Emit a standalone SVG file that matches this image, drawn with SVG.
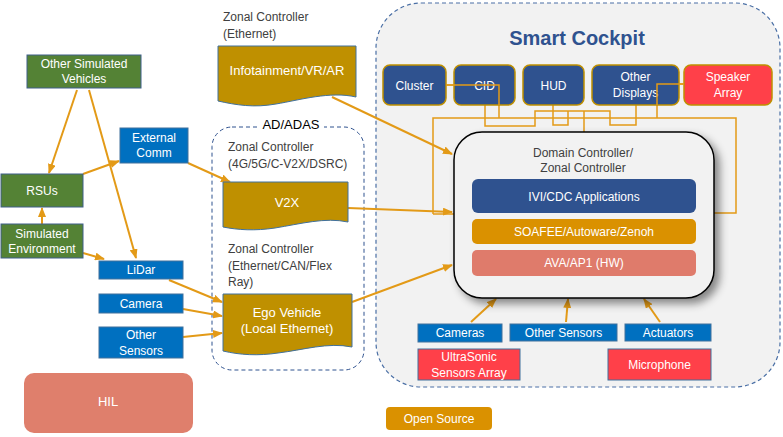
<svg xmlns="http://www.w3.org/2000/svg" width="783" height="437" viewBox="0 0 783 437">
<defs>
<marker id="ah" markerWidth="10" markerHeight="8" refX="9" refY="4" orient="auto" markerUnits="userSpaceOnUse">
<path d="M0,0 L10,4 L0,8 Z" fill="#E39A17"/>
</marker>
<filter id="sh" x="-10%" y="-10%" width="130%" height="130%">
<feDropShadow dx="5" dy="5" stdDeviation="4" flood-color="#000" flood-opacity="0.45"/>
</filter>
<style>
text{font-family:"Liberation Sans",Arial,sans-serif;font-size:12px}
.w{fill:#fff;text-anchor:middle}
.g{fill:#404040}
.c{text-anchor:middle}
.green{fill:#548235;stroke:#3E5F8A;stroke-width:1}
.blue{fill:#0070C0;stroke:#41719C;stroke-width:1}
.doc{fill:#BF9000;stroke:#41719C;stroke-width:1}
.dk{fill:#2F528F;stroke:#BF9000;stroke-width:1.5}
.red{fill:#FF4049;stroke:#41719C;stroke-width:1}
.arr{stroke:#E39A17;stroke-width:2;fill:none;marker-end:url(#ah)}
.wire{stroke:#E39A17;stroke-width:1.5;fill:none}
</style>
</defs>
<rect width="783" height="437" fill="#fff"/>

<g id="smart-cockpit">
<rect x="376" y="3" width="404" height="384" rx="45" fill="#F2F2F2" stroke="#4A6FA5" stroke-width="1.2" stroke-dasharray="4,3"/>
<text x="577" y="45" class="c" style="font-size:20px;font-weight:bold;fill:#2F528F">Smart Cockpit</text>
</g>

<g id="ad-adas">
<rect x="212" y="127" width="152" height="243" rx="20" fill="none" stroke="#2F528F" stroke-width="1" stroke-dasharray="4,3"/>
<rect x="258" y="118" width="66" height="16" fill="#fff"/>
<text x="291" y="129" class="c" style="font-size:13px;fill:#000">AD/ADAS</text>
</g>

<g id="connectors">
<path class="wire" d="M446,85 H499 V118"/>
<path class="wire" d="M433,214 V118 H736 V213 H714"/>
<path class="wire" d="M433,214 H454"/>
<path class="wire" d="M485,105 V126 H535 V111 H610 V125 H636 V105"/>
<path class="wire" d="M553,105 V125 H568 V111"/>
<path class="wire" d="M584,111 V132"/>
<path class="wire" d="M684,84 H657 V118"/>
<path class="arr" d="M77,90 L49,173"/>
<path class="arr" d="M89,90 L136,258"/>
<path class="arr" d="M83,174 L119,161"/>
<path class="arr" d="M42,224 L42,208"/>
<path class="arr" d="M83,253 L104,259"/>
<path class="arr" d="M169,280 L222,302"/>
<path class="arr" d="M183,309 L222,316"/>
<path class="arr" d="M183,337 L222,333"/>
<path class="arr" d="M188,163 L230,182"/>
<path class="arr" d="M332,97 L452,154"/>
<path class="arr" d="M348,208 L452,212"/>
<path class="arr" d="M352,302 L452,265"/>
<path class="arr" d="M471,322 L496,299"/>
<path class="arr" d="M566,322 L568,299"/>
<path class="arr" d="M660,322 L644,299"/>
</g>

<g id="other-simulated-vehicles">
<rect class="green" x="27" y="55" width="114" height="33"/>
<text class="w" x="84" y="68">Other Simulated</text>
<text class="w" x="84" y="83">Vehicles</text>
</g>
<g id="external-comm">
<rect class="blue" x="120" y="128" width="68" height="35"/>
<text class="w" x="154" y="142">External</text>
<text class="w" x="154" y="157">Comm</text>
</g>
<g id="rsus">
<rect class="green" x="1" y="174" width="82" height="33"/>
<text class="w" x="42" y="195">RSUs</text>
</g>
<g id="simulated-environment">
<rect class="green" x="1" y="224" width="82" height="34"/>
<text class="w" x="42" y="238">Simulated</text>
<text class="w" x="42" y="253">Environment</text>
</g>
<g id="lidar">
<rect class="blue" x="99" y="261" width="84" height="18"/>
<text class="w" x="141" y="274">LiDar</text>
</g>
<g id="camera">
<rect class="blue" x="99" y="294" width="84" height="19"/>
<text class="w" x="141" y="308">Camera</text>
</g>
<g id="other-sensors-left">
<rect class="blue" x="99" y="327" width="84" height="31"/>
<text class="w" x="141" y="339">Other</text>
<text class="w" x="141" y="355">Sensors</text>
</g>
<g id="hil">
<rect x="24" y="373" width="169" height="60" rx="10" fill="#DF7F6C"/>
<text class="w" x="108" y="406" style="font-size:13px">HIL</text>
</g>

<g id="infotainment">
<text class="g" x="223" y="21">Zonal Controller</text>
<text class="g" x="223" y="38">(Ethernet)</text>
<path class="doc" d="M218,46 H356 V97 C330,91 300,100 276,104 C254,108 236,105 218,101 Z"/>
<text class="w" x="287" y="75" style="font-size:13px">Infotainment/VR/AR</text>
</g>
<g id="v2x">
<text class="g" x="228" y="151">Zonal Controller</text>
<text class="g" x="228" y="168">(4G/5G/C-V2X/DSRC)</text>
<path class="doc" d="M223,182 H348 V222 C325,217 300,224 275,228 C255,231 238,230 223,227 Z"/>
<text class="w" x="287" y="207" style="font-size:13px">V2X</text>
</g>
<g id="ego-vehicle">
<text class="g" x="228" y="253">Zonal Controller</text>
<text class="g" x="228" y="270">(Ethernet/CAN/Flex</text>
<text class="g" x="228" y="286">Ray)</text>
<path class="doc" d="M223,294 H352 V347 C328,342 303,350 278,353 C258,356 240,355 223,351 Z"/>
<text class="w" x="287" y="317" style="font-size:13px">Ego Vehicle</text>
<text class="w" x="287" y="333" style="font-size:13px">(Local Ethernet)</text>
</g>

<g id="cluster">
<rect class="dk" x="383" y="65" width="63" height="40" rx="7"/>
<text class="w" x="414.5" y="90">Cluster</text>
</g>
<g id="cid">
<rect class="dk" x="454" y="65" width="61" height="40" rx="7"/>
<text class="w" x="484.5" y="90">CID</text>
</g>
<g id="hud">
<rect class="dk" x="523" y="65" width="61" height="40" rx="7"/>
<text class="w" x="553.5" y="90">HUD</text>
</g>
<g id="other-displays">
<rect class="dk" x="592" y="65" width="87" height="40" rx="7"/>
<text class="w" x="635.5" y="81">Other</text>
<text class="w" x="635.5" y="97">Displays</text>
</g>
<g id="speaker-array">
<rect x="684" y="65" width="88" height="40" rx="7" fill="#FF4049" stroke="#BF9000" stroke-width="1.5"/>
<text class="w" x="728" y="81">Speaker</text>
<text class="w" x="728" y="97">Array</text>
</g>
<!-- wires over boxes (pass through Cluster/CID and Other Displays) -->
<g id="wire-overlay">
<path class="wire" d="M446,85 H499 V105"/>
<path class="wire" d="M684,84 H657 V105"/>
</g>

<g id="domain-controller">
<rect x="454" y="132" width="260" height="166" rx="28" fill="#F2F2F2" stroke="#000" stroke-width="1.5" filter="url(#sh)"/>
<text class="g c" x="583" y="157">Domain Controller/</text>
<text class="g c" x="583" y="172">Zonal Controller</text>
</g>
<g id="ivi-cdc">
<rect x="472" y="179" width="224" height="34" rx="6" fill="#2F528F"/>
<text class="w" x="584" y="201">IVI/CDC Applications</text>
</g>
<g id="soafee">
<rect x="472" y="219" width="224" height="25" rx="5" fill="#DA9100"/>
<text class="w" x="584" y="236">SOAFEE/Autoware/Zenoh</text>
</g>
<g id="ava-ap1">
<rect x="472" y="250" width="224" height="26" rx="5" fill="#DF7B6B"/>
<text class="w" x="584" y="267">AVA/AP1 (HW)</text>
</g>

<g id="cameras">
<rect class="blue" x="418" y="324" width="84" height="18"/>
<text class="w" x="460" y="337">Cameras</text>
</g>
<g id="other-sensors-right">
<rect class="blue" x="510" y="324" width="107" height="17"/>
<text class="w" x="563.5" y="337">Other Sensors</text>
</g>
<g id="actuators">
<rect class="blue" x="625" y="324" width="86" height="17"/>
<text class="w" x="668" y="337">Actuators</text>
</g>
<g id="ultrasonic">
<rect class="red" x="418" y="349" width="102" height="31"/>
<text class="w" x="469" y="361">UltraSonic</text>
<text class="w" x="469" y="377">Sensors Array</text>
</g>
<g id="microphone">
<rect class="red" x="608" y="349" width="103" height="31"/>
<text class="w" x="659.5" y="369">Microphone</text>
</g>
<g id="open-source">
<rect x="386" y="407" width="106" height="23" rx="4" fill="#DA9100"/>
<text class="w" x="439" y="423">Open Source</text>
</g>
</svg>
